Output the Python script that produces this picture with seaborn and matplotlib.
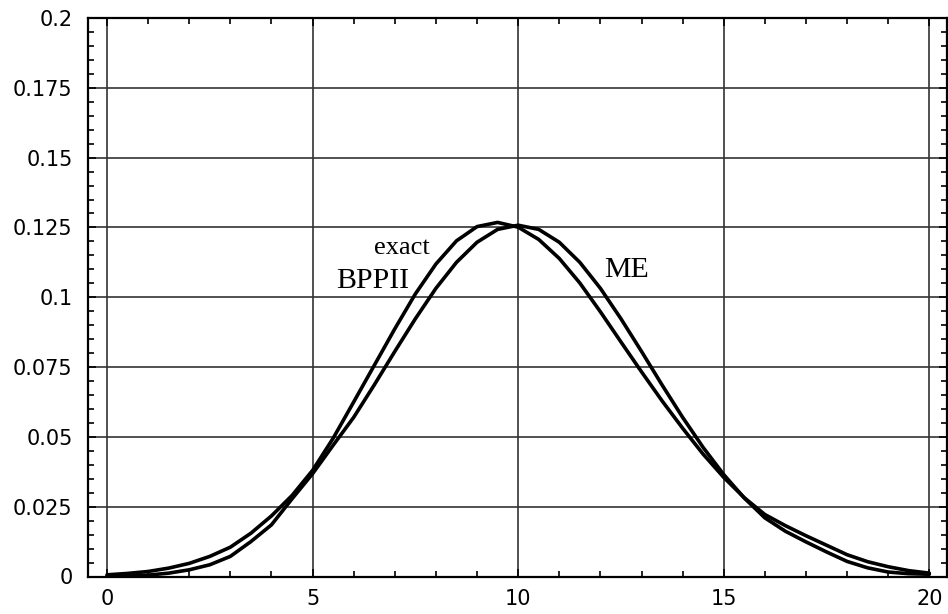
import numpy as np
import pandas as pd
import matplotlib
matplotlib.use("Agg")
import matplotlib.pyplot as plt
import seaborn as sns
from matplotlib.ticker import FixedLocator, FixedFormatter, MultipleLocator

# ---- data ----
x_vals = [0, 0.5, 1, 1.5, 2, 2.5, 3, 3.5, 4, 4.5, 5, 5.5, 6, 6.5, 7, 7.5, 8, 8.5, 9, 9.5,
          10, 10.5, 11, 11.5, 12, 12.5, 13, 13.5, 14, 14.5, 15, 15.5, 16, 16.5, 17, 17.5,
          18, 18.5, 19, 19.5, 20]

# left-shifted curve ("exact" / "BPPII")
exact_vals = [0.0006, 0.0011, 0.0018, 0.0030, 0.0047, 0.0072, 0.0105, 0.0155, 0.0217, 0.0290,
              0.0380, 0.0495, 0.0625, 0.0756, 0.0887, 0.1012, 0.1119, 0.1202, 0.1253, 0.1268,
              0.1251, 0.1207, 0.1139, 0.1051, 0.0948, 0.0840, 0.0733, 0.0629, 0.0531, 0.0438,
              0.0355, 0.0282, 0.0222, 0.0182, 0.0146, 0.0112, 0.0078, 0.0053, 0.0035, 0.0021,
              0.0012]

# curve centred at 10 ("ME")
me_vals = [0.0001, 0.0002, 0.0005, 0.0012, 0.0024, 0.0042, 0.0072, 0.0125, 0.0185, 0.0278,
           0.0368, 0.0470, 0.0570, 0.0686, 0.0806, 0.0923, 0.1032, 0.1125, 0.1197, 0.1243,
           0.1258, 0.1243, 0.1197, 0.1125, 0.1032, 0.0923, 0.0806, 0.0686, 0.0570, 0.0462,
           0.0365, 0.0281, 0.0210, 0.0162, 0.0124, 0.0088, 0.0054, 0.0031, 0.0016, 0.0010,
           0.0008]

x_ticks = [0, 5, 10, 15, 20]
x_tick_labels = ["0", "5", "10", "15", "20"]
y_ticks = [0, 0.025, 0.05, 0.075, 0.1, 0.125, 0.15, 0.175, 0.2]
y_tick_labels = ["0", "0.025", "0.05", "0.075", "0.1", "0.125", "0.15", "0.175", "0.2"]

labels = ["exact", "BPPII", "ME"]
label_pos_x = [7.18, 6.46, 12.63]
label_pos_y = [0.1154, 0.1032, 0.1072]
label_sizes = [19, 21.5, 21.5]

# ---- plotting ----
sns.set_style("white")
plt.rcParams['font.family'] = ['DejaVu Sans']

fig = plt.figure(figsize=(9.48, 6.14), dpi=100)
ax = fig.add_axes([88 / 948, (614 - 576.5) / 614, (947 - 88) / 948, (576.5 - 18) / 614])

df = pd.DataFrame({
    "x": x_vals * 2,
    "y": exact_vals + me_vals,
    "series": ["exact"] * len(x_vals) + ["ME"] * len(x_vals),
})
sns.lineplot(data=df, x="x", y="y", units="series", estimator=None,
             color="black", lw=2.6, ax=ax, zorder=3, sort=True)

ax.set_xlim(-0.462, 20.43)
ax.set_ylim(0, 0.2)

ax.xaxis.set_major_locator(FixedLocator(x_ticks))
ax.xaxis.set_major_formatter(FixedFormatter(x_tick_labels))
ax.yaxis.set_major_locator(FixedLocator(y_ticks))
ax.yaxis.set_major_formatter(FixedFormatter(y_tick_labels))
ax.xaxis.set_minor_locator(MultipleLocator(1))
ax.yaxis.set_minor_locator(MultipleLocator(0.005))

ax.grid(True, which="major", color="#333333", lw=1.2, zorder=1)
ax.set_axisbelow(True)

ax.tick_params(which="both", direction="in", top=True, right=True, bottom=True, left=True,
               color="black", width=1.2)
ax.tick_params(which="major", length=6, labelsize=15, labelcolor="black")
ax.tick_params(axis="y", which="major", pad=11)
ax.tick_params(axis="x", which="major", pad=9)
ax.tick_params(which="minor", length=4)

for s in ax.spines.values():
    s.set_color("black")
    s.set_linewidth(1.6)

ax.set_xlabel("")
ax.set_ylabel("")

for t, xx, yy, fs in zip(labels, label_pos_x, label_pos_y, label_sizes):
    ax.text(xx, yy, t, ha="center", va="baseline", fontsize=fs,
            family=["Liberation Serif", "DejaVu Serif"], color="black", zorder=4)

fig.savefig("out.png", dpi=100)
